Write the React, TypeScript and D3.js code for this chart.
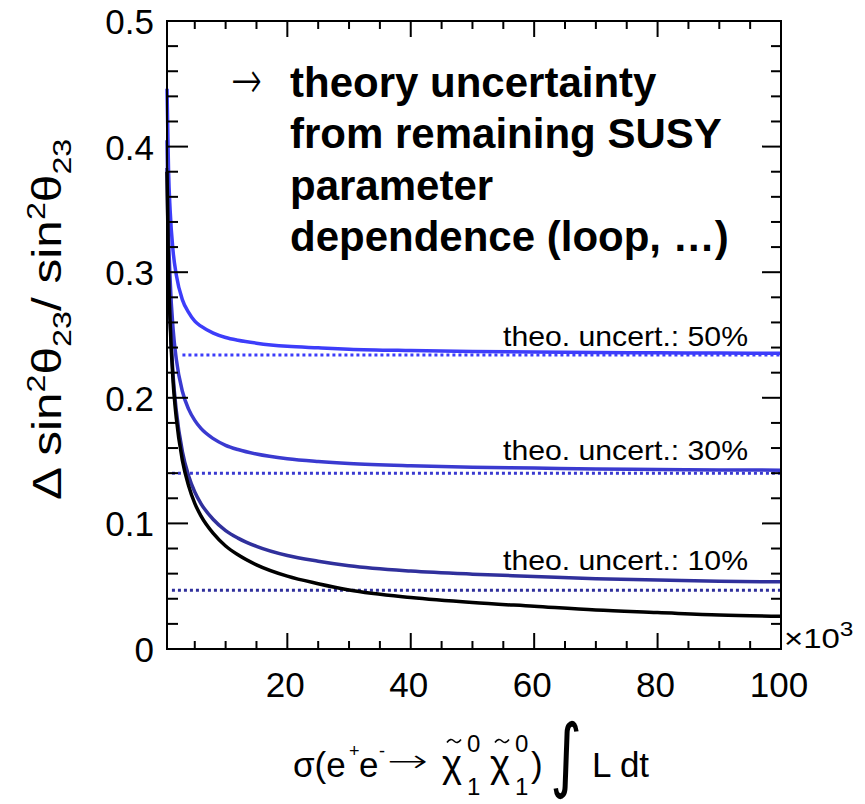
import React from "react";
import * as d3 from "d3";

// Integrated luminosity samples (in units of 10^3)
const xSamples = [0.5, 0.75, 1, 1.5, 2, 3, 4, 5, 6, 8, 10, 12, 15, 20, 25, 30, 40, 50, 60, 70, 80, 90, 100];

// Relative uncertainty, statistical only
const statOnly = [0.38, 0.3, 0.26, 0.212, 0.184, 0.15, 0.13, 0.116, 0.106, 0.092, 0.082, 0.075, 0.067, 0.058, 0.052, 0.047, 0.041, 0.037, 0.034, 0.031, 0.029, 0.027, 0.026];

// Combined with a theory uncertainty of 50%, 30% and 10%
const withTheo50 = [0.446, 0.381, 0.35, 0.316, 0.298, 0.278, 0.268, 0.261, 0.257, 0.2515, 0.248, 0.2458, 0.2435, 0.241, 0.2398, 0.2387, 0.2376, 0.2369, 0.2365, 0.2361, 0.2358, 0.2356, 0.2355];
const withTheo30 = [0.405, 0.331, 0.295, 0.254, 0.231, 0.205, 0.191, 0.182, 0.1756, 0.1675, 0.1622, 0.1588, 0.1552, 0.1515, 0.1493, 0.1477, 0.1459, 0.1448, 0.1441, 0.1434, 0.143, 0.1426, 0.1424];
const withTheo10 = [0.383, 0.304, 0.264, 0.217, 0.19, 0.157, 0.138, 0.125, 0.1158, 0.1031, 0.0943, 0.0883, 0.0817, 0.0744, 0.0699, 0.0663, 0.0621, 0.0596, 0.0578, 0.056, 0.055, 0.0539, 0.0535];

// Theory-only floor levels and where their dotted lines begin
const theoLevels = [0.234, 0.14, 0.0467];
const theoStart = [3, 1.3, 1.3];
const theoLabels = ["theo. uncert.: 50%", "theo. uncert.: 30%", "theo. uncert.: 10%"];

const xTicks = [20, 40, 60, 80, 100];
const yTicks = [0, 0.1, 0.2, 0.3, 0.4, 0.5];

const noteLines = ["theory uncertainty", "from remaining SUSY", "parameter", "dependence (loop, \u2026)"];

const W = 865;
const H = 804;
const frame = { left: 167, right: 781, top: 21, bottom: 649 };
const FONT = "'Liberation Sans', Arial, Helvetica, sans-serif";
const SYMBOL_FONT = "'DejaVu Sans', sans-serif";

const theoColors = ["#3d3dfa", "#3a3ad0", "#30309c"];
// label baseline offsets above each floor line, in pixels
const labelLift = [9, 13, 20];

// small tilde accent drawn above a glyph centred at cx
function Tilde({ cx, cy }: { cx: number; cy: number }) {
  return (
    <path
      d={`M${cx - 7},${cy + 1.5} q3.5,-5 7,-1.5 t7,-1.5`}
      fill="none"
      stroke="#000"
      strokeWidth={1.6}
    />
  );
}

export default function App() {
  const x = d3.scaleLinear().domain([0.5, 100]).range([frame.left, frame.right]);
  const y = d3.scaleLinear().domain([0, 0.5]).range([frame.bottom, frame.top]);

  const line = d3
    .line<number>()
    .x((_, i) => x(xSamples[i]))
    .y((d) => y(d))
    .curve(d3.curveMonotoneX);

  const curves = [
    { values: withTheo50, color: theoColors[0] },
    { values: withTheo30, color: theoColors[1] },
    { values: withTheo10, color: theoColors[2] },
    { values: statOnly, color: "#000000" },
  ];

  const xMinor = d3.range(5, 100, 5).filter((v) => !xTicks.includes(v));
  const yMinor = d3.range(0, 0.5, 0.02).filter((v) => Math.abs(v * 10 - Math.round(v * 10)) > 1e-6);

  const fmtY = (v: number) => (v === 0 ? "0" : d3.format(".1f")(v));

  return (
    <svg
      width={W}
      height={H}
      viewBox={`0 0 ${W} ${H}`}
      style={{ position: "absolute", left: 0, top: 0, background: "#fff" }}
      fontFamily={FONT}
    >
      <rect x={0} y={0} width={W} height={H} fill="#fff" />

      {/* theory-only floors */}
      {theoLevels.map((lv, i) => (
        <line
          key={`theo-${i}`}
          x1={x(theoStart[i])}
          x2={x(100)}
          y1={y(lv)}
          y2={y(lv)}
          stroke={theoColors[i]}
          strokeWidth={3}
          strokeDasharray="3,3"
        />
      ))}

      {/* uncertainty curves */}
      {curves.map((c, i) => (
        <path key={`c-${i}`} d={line(c.values) || ""} fill="none" stroke={c.color} strokeWidth={3.5} />
      ))}

      {/* frame */}
      <rect
        x={frame.left}
        y={frame.top}
        width={frame.right - frame.left}
        height={frame.bottom - frame.top}
        fill="none"
        stroke="#000"
        strokeWidth={2}
      />

      {/* x ticks, bottom and top */}
      {xTicks.map((v) => (
        <g key={`xt-${v}`} stroke="#000" strokeWidth={2}>
          <line x1={x(v)} x2={x(v)} y1={frame.bottom} y2={frame.bottom - 16} />
          <line x1={x(v)} x2={x(v)} y1={frame.top} y2={frame.top + 16} />
        </g>
      ))}
      {xMinor.map((v) => (
        <g key={`xm-${v}`} stroke="#000" strokeWidth={2}>
          <line x1={x(v)} x2={x(v)} y1={frame.bottom} y2={frame.bottom - 8} />
          <line x1={x(v)} x2={x(v)} y1={frame.top} y2={frame.top + 8} />
        </g>
      ))}

      {/* y ticks, left and right */}
      {yTicks.map((v) => (
        <g key={`yt-${v}`} stroke="#000" strokeWidth={2}>
          <line x1={frame.left} x2={frame.left + 21} y1={y(v)} y2={y(v)} />
          <line x1={frame.right} x2={frame.right - 19} y1={y(v)} y2={y(v)} />
        </g>
      ))}
      {yMinor.map((v) => (
        <g key={`ym-${v}`} stroke="#000" strokeWidth={2}>
          <line x1={frame.left} x2={frame.left + 11} y1={y(v)} y2={y(v)} />
          <line x1={frame.right} x2={frame.right - 10} y1={y(v)} y2={y(v)} />
        </g>
      ))}

      {/* tick labels */}
      {yTicks.map((v) => (
        <text key={`yl-${v}`} x={154} y={y(v) + 13} fontSize={35} textAnchor="end" fill="#000">
          {fmtY(v)}
        </text>
      ))}
      {xTicks.map((v) => (
        <text key={`xl-${v}`} x={x(v) - 2} y={697} fontSize={35} textAnchor="middle" fill="#000">
          {v}
        </text>
      ))}
      <g transform="translate(784,648) scale(1.22,1)">
        <text x={0} y={0} fontSize={27} fill="#000">
          ×10
          <tspan dy={-12} fontSize={20}>
            3
          </tspan>
        </text>
      </g>

      {/* curve labels */}
      {theoLevels.map((lv, i) => (
        <text
          key={`tl-${i}`}
          x={503}
          y={y(lv) - labelLift[i]}
          fontSize={28}
          textLength={245}
          lengthAdjust="spacingAndGlyphs"
          fill="#000"
        >
          {theoLabels[i]}
        </text>
      ))}

      {/* annotation */}
      <text
        x={231}
        y={98}
        fontSize={52}
        fontFamily={SYMBOL_FONT}
        fontWeight={200}
        textLength={31}
        lengthAdjust="spacingAndGlyphs"
        fill="#000"
      >
        →
      </text>
      {noteLines.map((t, i) => (
        <text key={`n-${i}`} x={290} y={97 + i * 51.3} fontSize={42} fontWeight="bold" fill="#000">
          {t}
        </text>
      ))}

      {/* y axis title */}
      <g transform="translate(61,500) rotate(-90) scale(1.24,1)">
        <text x={0} y={0} fontSize={40} fill="#000">
          Δ sin
          <tspan dy={-16} fontSize={26}>
            2
          </tspan>
          <tspan dy={16}>θ</tspan>
          <tspan dy={10} fontSize={26}>
            23
          </tspan>
          <tspan dy={-10}>/ sin</tspan>
          <tspan dy={-16} fontSize={26}>
            2
          </tspan>
          <tspan dy={16}>θ</tspan>
          <tspan dy={10} fontSize={26}>
            23
          </tspan>
        </text>
      </g>

      {/* x axis title */}
      <g fill="#000">
        <text x={293} y={777} fontSize={35}>σ(e</text>
        <text x={349} y={757} fontSize={18}>+</text>
        <text x={359} y={777} fontSize={35}>e</text>
        <text x={379} y={757} fontSize={18}>-</text>
        <text
          x={387}
          y={772}
          fontSize={32}
          fontFamily={SYMBOL_FONT}
          fontWeight={200}
          textLength={41}
          lengthAdjust="spacingAndGlyphs"
        >
          →
        </text>
        <text x={442} y={777} fontSize={38}>χ</text>
        <Tilde cx={454} cy={741} />
        <text x={467} y={752} fontSize={24}>0</text>
        <text x={467} y={795} fontSize={24}>1</text>
        <text x={490} y={777} fontSize={38}>χ</text>
        <Tilde cx={502} cy={741} />
        <text x={515} y={752} fontSize={24}>0</text>
        <text x={515} y={795} fontSize={24}>1</text>
        <text x={531} y={777} fontSize={35}>)</text>
        <g transform="translate(550,782) scale(1.1,1.45)">
          <text x={0} y={0} fontSize={56} fontFamily={SYMBOL_FONT}>∫</text>
        </g>
        <text x={592} y={777} fontSize={35}>L dt</text>
      </g>
    </svg>
  );
}
